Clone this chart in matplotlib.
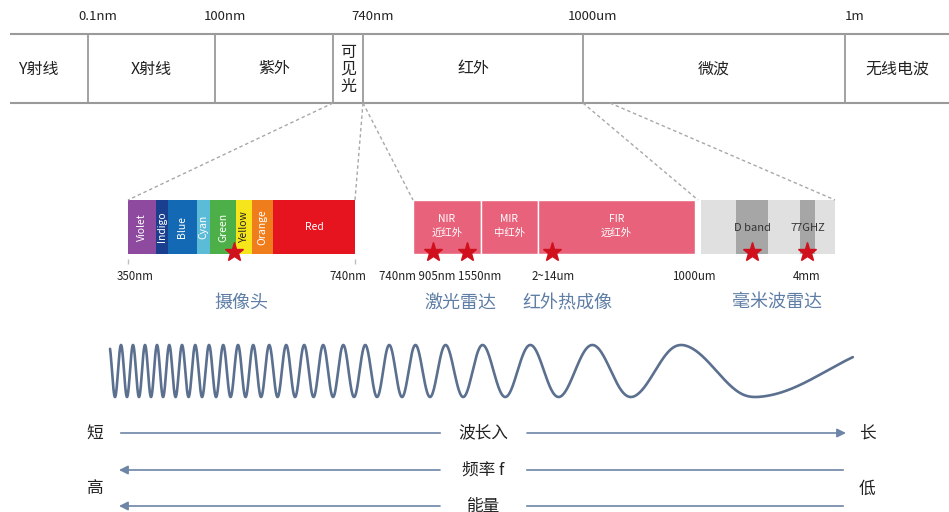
import numpy as np
import matplotlib
matplotlib.use("Agg")
import matplotlib.pyplot as plt

plt.rcParams['font.family'] = ['Noto Sans CJK SC', 'DejaVu Sans']

# ---------------- data ----------------
top_labels = ['Y射线', 'X射线', '紫外', '可\n见\n光', '红外', '微波', '无线电波']
top_bounds = [10, 88, 215, 333, 363, 583, 845, 949]
top_ticks = ['0.1nm', '100nm', '740nm', '1000um', '1m']
top_tick_pos = [88, 215, 363, 583, 845]

vis_names = ['Violet', 'Indigo', 'Blue', 'Cyan', 'Green', 'Yellow', 'Orange', 'Red']
vis_bounds = [128, 156, 168, 197, 210, 236, 252, 273, 355]
vis_colors = ['#8e4a9e', '#1b3f8f', '#1469b5', '#5cbcd8', '#4caf48', '#f7e51c', '#ef7d1c', '#e6141f']
vis_text_colors = ['white', 'white', 'white', 'white', 'white', '#222222', 'white', 'white']

ir_names = ['NIR\n近红外', 'MIR\n中红外', 'FIR\n远红外']
ir_bounds = [413, 481, 538, 695]
ir_color = '#e8627b'

mm_bounds = [701, 835]
mm_band_names = ['D band', '77GHZ']
mm_band_left = [736, 800]
mm_band_right = [768, 815]

star_x = [234, 433, 467, 552, 752, 807]

sub_labels = ['350nm', '740nm', '740nm 905nm 1550nm', '2~14um', '1000um', '4mm']
sub_label_x = [135, 348, 440, 553, 694, 807]

app_labels = ['摄像头', '激光雷达', '红外热成像', '毫米波雷达']
app_label_x = [241, 460, 567, 777]

zoom_from_x = [333, 363, 363, 583, 610]
zoom_to_x = [128, 355, 413, 698, 835]

wave_peaks_x = [97, 109, 121, 133, 145, 157, 169, 182, 195, 209, 223, 238, 253, 269,
                286, 304, 323, 343, 365, 389, 415, 445, 482, 530, 592, 680, 900]
wave_troughs_x = [103, 115, 127, 139, 151, 163, 175.5, 188.5, 202, 216, 230.5, 245.5, 261,
                  277.5, 295, 313.5, 333, 354, 377, 402, 430, 463, 505, 558, 630, 753]
wave_start, wave_end = 110, 853

arrow_rows = ['波长入', '频率 f', '能量']
arrow_dir = ['right', 'left', 'left']
side_left = ['短', '高']
side_right = ['长', '低']

# ---------------- figure ----------------
fig = plt.figure(figsize=(9.49, 5.12), dpi=100)
ax = fig.add_axes([0, 0, 1, 1])
ax.set_xlim(0, 949)
ax.set_ylim(512, 0)
ax.axis('off')

grey = '#9a9a9a'
# top band
ax.hlines([34, 103], top_bounds[0], top_bounds[-1], color=grey, lw=1.5)
ax.vlines(top_bounds[1:-1], 34, 103, color=grey, lw=1.3)
for i, lab in enumerate(top_labels):
    cx = (top_bounds[i] + top_bounds[i + 1]) / 2
    if i == 0:
        cx = 38
    ax.text(cx, 69, lab, ha='center', va='center', fontsize=11.5, color='#222222',
            linespacing=1.0)
for t, p in zip(top_ticks, top_tick_pos):
    ax.text(p + 10, 17, t, ha='center', va='center', fontsize=9.5, color='#222222')

# dashed zoom lines
for fx, tx in zip(zoom_from_x, zoom_to_x):
    ax.plot([fx, tx], [103, 200], color='#a8a8a8', lw=1.0, ls=(0, (2.5, 2)))

# visible bar
lefts = np.array(vis_bounds[:-1])
widths = np.diff(vis_bounds)
ax.bar(lefts, 54, width=widths, bottom=200, align='edge', color=vis_colors, lw=0)
for i, nm in enumerate(vis_names):
    cx = lefts[i] + widths[i] / 2
    if nm == 'Red':
        ax.text(cx, 227, nm, ha='center', va='center', fontsize=7.5, color='white')
    else:
        ax.text(cx, 227, nm, ha='center', va='center', fontsize=7.5,
                color=vis_text_colors[i], rotation=90)

# IR bar
irl = np.array(ir_bounds[:-1])
irw = np.diff(ir_bounds)
ax.bar(irl, 54, width=irw, bottom=200, align='edge', color=ir_color,
       edgecolor='white', lw=1.0)
for i, nm in enumerate(ir_names):
    cx = irl[i] + irw[i] / 2
    ax.text(cx, 226, nm, ha='center', va='center', fontsize=7.5, color='white',
            linespacing=1.4)

# mm wave bar
ax.bar([mm_bounds[0]], 54, width=[mm_bounds[1] - mm_bounds[0]], bottom=200,
       align='edge', color='#e0e0e0', lw=0)
bl = np.array(mm_band_left)
bw = np.array(mm_band_right) - bl
ax.bar(bl, 54, width=bw, bottom=200, align='edge', color='#a6a6a6', lw=0)
for nm, l, w in zip(mm_band_names, bl, bw):
    ax.text(l + w / 2, 228, nm, ha='center', va='center', fontsize=8, color='#333333')

# tiny ticks under visible bar
ax.vlines([vis_bounds[0], vis_bounds[-1]], 259, 264, color='#c0c0c0', lw=1)

# stars
ax.plot(star_x, [252] * len(star_x), ls='none', marker='*', ms=14,
        color='#d0101c', mec='#d0101c')

# sub labels
for t, x in zip(sub_labels, sub_label_x):
    ax.text(x, 276, t, ha='center', va='center', fontsize=8.3, color='#222222')

# application labels
for t, x in zip(app_labels, app_label_x):
    ax.text(x, 303, t, ha='center', va='center', fontsize=13, color='#5f7ea6')

# wave (phase from read extrema, smoothed)
kx = np.array(sorted(wave_peaks_x + wave_troughs_x))
kphase = np.arange(len(kx)) * np.pi
xs = np.linspace(kx[0], kx[-1], 4000)
ph = np.interp(xs, kx, kphase)
dx = xs[1] - xs[0]
sig = 8.0 / dx
kern = np.exp(-0.5 * (np.arange(-int(4 * sig), int(4 * sig) + 1) / sig) ** 2)
kern /= kern.sum()
pad = len(kern) // 2
php = np.concatenate([ph[0] - (ph[1] - ph[0]) * np.arange(pad, 0, -1),
                      ph,
                      ph[-1] + (ph[-1] - ph[-2]) * np.arange(1, pad + 1)])
phs = np.convolve(php, kern, mode='valid')
m = (xs >= wave_start) & (xs <= wave_end)
ys = 371 - 26 * np.cos(phs[m])
ax.plot(xs[m], ys, color='#5b6f8f', lw=1.9, solid_capstyle='round')

# arrows
acol = '#6d85a6'
row_y = [433, 470, 506]
for t, d, y in zip(arrow_rows, arrow_dir, row_y):
    ax.text(483, y, t, ha='center', va='center', fontsize=12, color='#222222')
    if d == 'right':
        ax.plot([121, 440], [y, y], color=acol, lw=1.2)
        ax.annotate('', xy=(846, y), xytext=(527, y),
                    arrowprops=dict(arrowstyle='-|>', color=acol, lw=1.2,
                                    mutation_scale=13, shrinkA=0, shrinkB=0))
    else:
        ax.plot([527, 843], [y, y], color=acol, lw=1.2)
        ax.annotate('', xy=(119, y), xytext=(440, y),
                    arrowprops=dict(arrowstyle='-|>', color=acol, lw=1.2,
                                    mutation_scale=13, shrinkA=0, shrinkB=0))

ax.text(95, 433, side_left[0], ha='center', va='center', fontsize=12, color='#222222')
ax.text(95, 489, side_left[1], ha='center', va='center', fontsize=12, color='#222222')
ax.text(867, 433, side_right[0], ha='center', va='center', fontsize=12, color='#222222')
ax.text(867, 489, side_right[1], ha='center', va='center', fontsize=12, color='#222222')

fig.savefig('out.png', dpi=100)
